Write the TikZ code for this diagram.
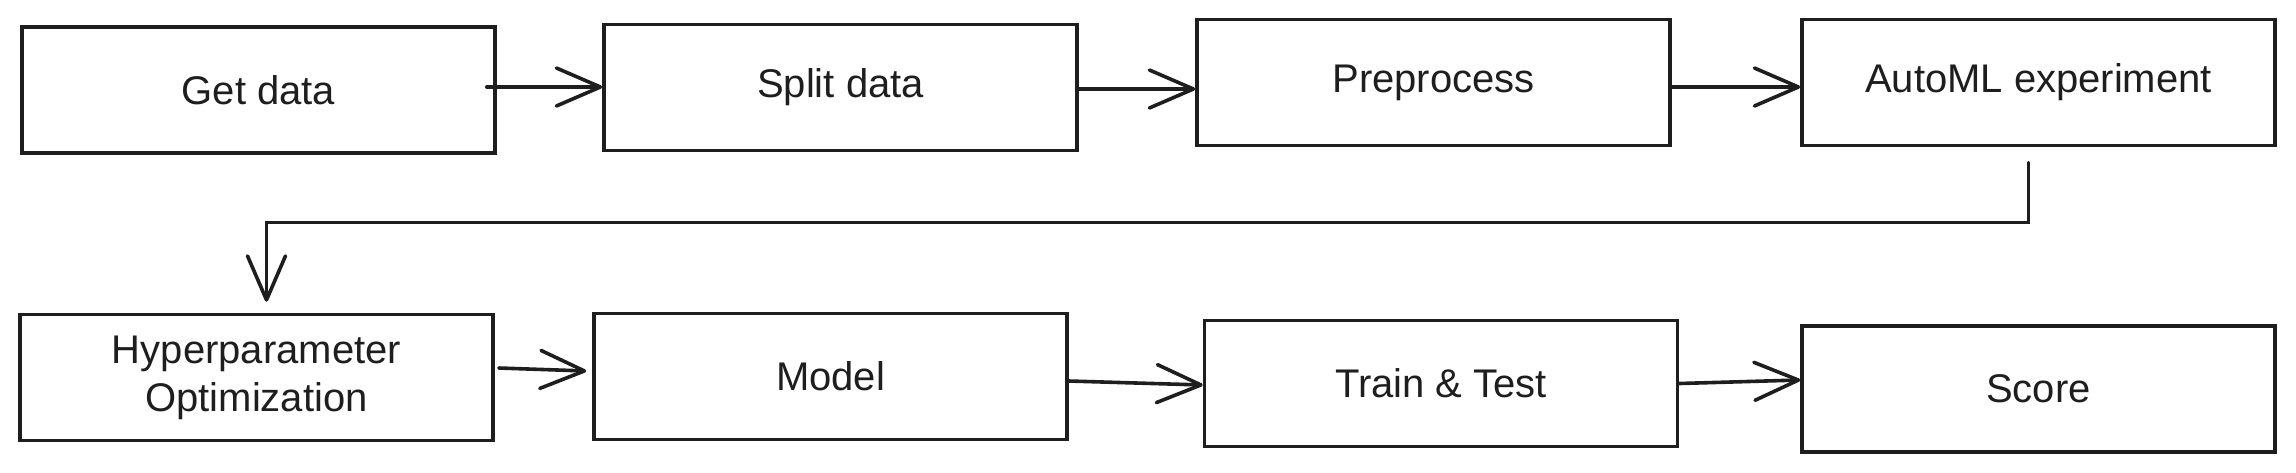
\documentclass[tikz,border=0pt]{standalone}
\usepackage{fontspec}
\setmainfont{Liberation Sans}
\usetikzlibrary{arrows.meta}
\definecolor{ink}{HTML}{1E1E1E}
\tikzset{
  stepbox/.style={draw=ink, line width=3.6pt, minimum width=473pt, minimum height=126pt,
    inner sep=0pt, align=center, text=ink, font=\fontsize{40}{48}\selectfont},
  arr/.style={draw=ink, line width=3.6pt, line cap=round,
    -{Straight Barb[length=44pt,width=38pt,line width=3.6pt,round]}}
}
\begin{document}
\begin{tikzpicture}[x=1pt,y=-1pt]
\useasboundingbox (0,0) rectangle (2296,472);
\node[stepbox] (get)   at (258.5,90)   {Get data};
\node[stepbox] (split) at (840.5,87.5) {Split data};
\node[stepbox] (pre)   at (1433.5,82.5) {Preprocess};
\node[stepbox] (auto)  at (2038.5,82.5) {AutoML experiment};
\node[stepbox] (hyp)   at (256.5,377.5) {Hyperparameter\\Optimization};
\node[stepbox] (model) at (830.5,376.5) {Model};
\node[stepbox] (train) at (1441,383.5) {Train \& Test};
\node[stepbox] (score) at (2038.5,389) {Score};
\coordinate (ya) at (0,87);
\coordinate (yb) at (0,89);
\coordinate (bend) at (0,222);
\draw[arr, shorten <=-10pt] (get.east |- ya) -- (split.west |- ya);
\draw[arr] (split.east |- yb) -- (pre.west |- yb);
\draw[arr] (pre.east |- ya) -- (auto.west |- ya);
\draw[arr, line width=3pt, shorten <=15pt, shorten >=11pt] ([xshift=-10pt]auto.south) -- ([xshift=-10pt]auto.south |- bend) -| ([xshift=10pt]hyp.north);
\draw[arr] ([xshift=4pt,yshift=9.5pt]hyp.east) -- ([xshift=-6pt,yshift=5.5pt]model.west);
\draw[arr] ([yshift=-4.5pt]model.east) -- ([yshift=-1.5pt]train.west);
\draw[arr] (train.east) -- ([yshift=9pt]score.west);
\end{tikzpicture}
\end{document}
